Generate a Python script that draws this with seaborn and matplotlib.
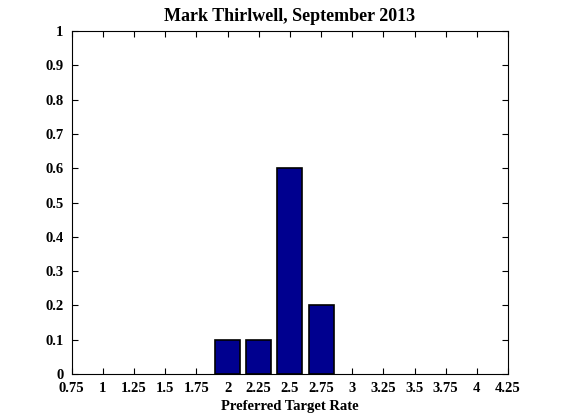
import matplotlib
matplotlib.use('Agg')
import matplotlib.pyplot as plt
import seaborn as sns

# preferred target rate vs share of votes
rates = [2.0, 2.25, 2.5, 2.75]
shares = [0.1, 0.1, 0.6, 0.2]
xticks = [0.75, 1, 1.25, 1.5, 1.75, 2, 2.25, 2.5, 2.75, 3, 3.25, 3.5, 3.75, 4, 4.25]
xtick_labels = ['0.75', '1', '1.25', '1.5', '1.75', '2', '2.25', '2.5', '2.75',
                '3', '3.25', '3.5', '3.75', '4', '4.25']
yticks = [0, 0.1, 0.2, 0.3, 0.4, 0.5, 0.6, 0.7, 0.8, 0.9, 1]
ytick_labels = ['0', '0.1', '0.2', '0.3', '0.4', '0.5', '0.6', '0.7', '0.8', '0.9', '1']

sns.set_style('white')
plt.rcParams['font.family'] = ['Liberation Serif', 'DejaVu Serif']
plt.rcParams['font.weight'] = 'bold'
plt.rcParams['text.color'] = 'black'
plt.rcParams['axes.labelcolor'] = 'black'

fig = plt.figure(figsize=(5.61, 4.2), dpi=100)
ax = fig.add_axes([0.128, 0.1095, 0.7775, 0.8165])

sns.barplot(x=rates, y=shares, native_scale=True, color='#00008F', saturation=1,
            edgecolor='black', linewidth=1.2, width=0.8, ax=ax)

ax.set_xlim(0.75, 4.25)
ax.set_ylim(0, 1)
ax.set_xticks(xticks)
ax.set_xticklabels(xtick_labels, fontsize=10.5, fontweight='bold', color='black')
ax.set_yticks(yticks)
ax.set_yticklabels(ytick_labels, fontsize=10.5, fontweight='bold', color='black')
ax.tick_params(direction='in', length=4, width=0.8, top=True, right=True,
               bottom=True, left=True, colors='black')
ax.tick_params(axis='x', pad=6)
ax.tick_params(axis='y', pad=6)
for s in ax.spines.values():
    s.set_visible(True)
    s.set_color('black')
    s.set_linewidth(0.8)

ax.set_xlabel('Preferred Target Rate', fontsize=10.5, fontweight='bold', labelpad=3, color='black')
ax.set_ylabel('')
ax.set_title('Mark Thirlwell, September 2013', fontsize=13, fontweight='bold', pad=7, color='black')

fig.savefig('out.png', dpi=100)
